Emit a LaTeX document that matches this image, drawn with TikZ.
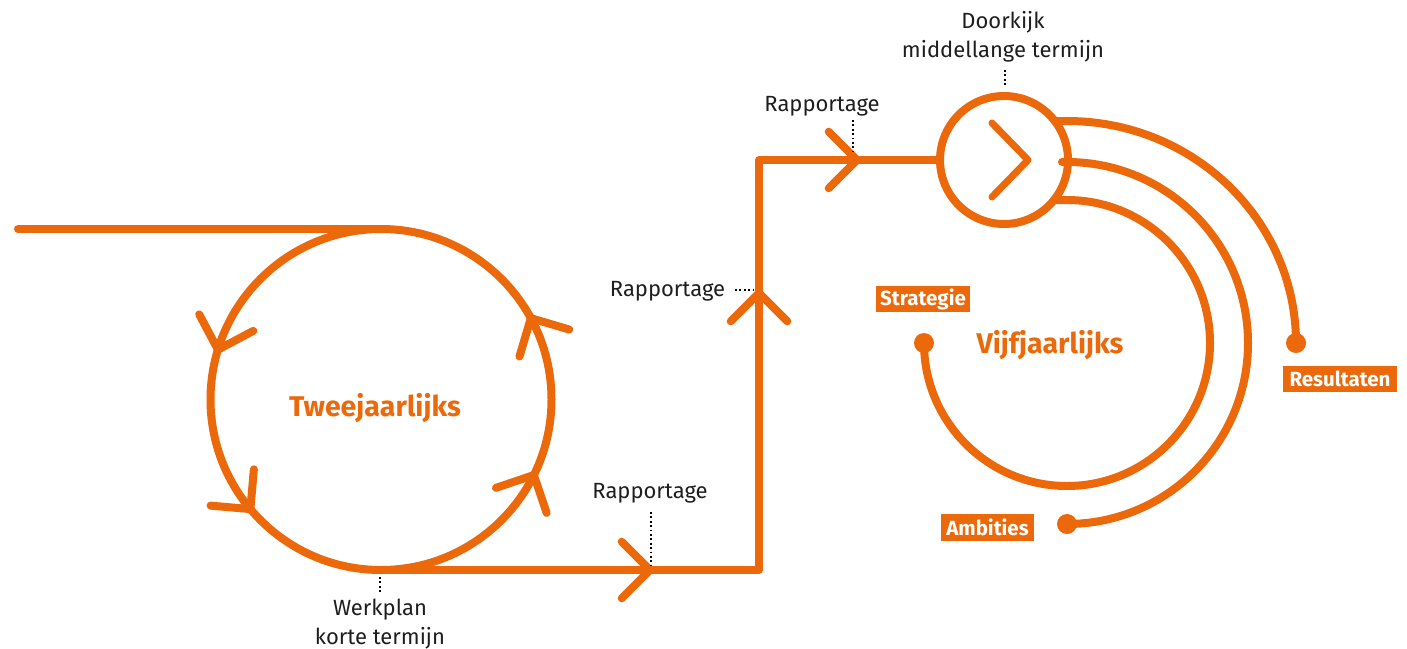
\documentclass[tikz,border=0pt]{standalone}
\usepackage{fontspec}
\setmainfont{Fira Sans}
\usetikzlibrary{calc}
\definecolor{or}{RGB}{235,105,10}
\definecolor{txt}{RGB}{30,30,30}
\begin{document}
\begin{tikzpicture}[x=1pt,y=1pt,
  ln/.style={draw=or, line width=8pt, line cap=round, line join=round},
  dots/.style={draw=black, line width=2pt, dash pattern=on 1.8pt off 2.6pt},
  lbl/.style={font=\fontsize{22}{29}\selectfont, text=txt, inner sep=0pt, align=center, anchor=base},
  big/.style={font=\bfseries\fontsize{28.5}{34}\selectfont, text=or, inner sep=0pt, anchor=base},
  tag/.style={fill=or, text=white, font=\bfseries\fontsize{20.5}{22}\selectfont, inner sep=0pt, minimum height=26pt},
  dotn/.style={circle, fill=or, minimum size=20pt, inner sep=0pt}]
\useasboundingbox (0,0) rectangle (1407,-648);
% left cycle
\coordinate (c1) at (381,-399.5);
\coordinate (start) at (18,-229);
\coordinate (top1) at (381,-229);
\coordinate (bot1) at (381,-570);
\draw[ln] (c1) circle (170.5);
\draw[ln] (start) -- (top1);
\foreach \a in {163,220,-26.3,28.5}{
  \draw[ln] ($(c1)+(\a:170.5)$) ++(\a+225:40) -- ++(\a+45:40) -- ++(\a-45:40);
}
% path to the right
\coordinate (cornerA) at (759,-570);
\coordinate (cornerB) at (759,-160);
\node[circle, draw=or, line width=8pt, minimum size=128pt, inner sep=0pt] (dk) at (1004,-160) {};
\draw[ln] (bot1) -- (cornerA) -- (cornerB) -- (dk.west);
\coordinate (r1) at (650,-570);
\coordinate (r2) at (759,-293);
\coordinate (r3) at (857,-160);
\draw[ln] (r1) ++(135:40) -- ++(-45:40) -- ++(-135:40);
\draw[ln] (r2) ++(-135:40) -- ++(45:40) -- ++(-45:40);
\draw[ln] (r3) ++(135:40) -- ++(-45:40) -- ++(-135:40);
\draw[ln, line width=7pt] ($(dk)+(-12,37)$) -- ($(dk)+(24,0)$) -- ($(dk)+(-12,-37)$);
% arcs
\node[dotn] (dR) at (1296,-343) {};
\node[dotn] (dA) at (1067,-524) {};
\node[dotn] (dS) at (924,-343) {};
\draw[ln] (1055,-121) -- (1067,-121) arc[start angle=90, end angle=0, x radius=229, y radius=222];
\draw[ln] (1062,-162) -- (1067,-162) arc[start angle=90, end angle=-90, radius=181];
\draw[ln] (1055,-200) -- (1067,-200) arc[start angle=90, end angle=-180, radius=143];
% tags
\node[tag, minimum width=94pt] (strat) at (923,-299) {Strategie};
\node[tag, minimum width=114pt] (res) at (1340,-379) {Resultaten};
\node[tag, minimum width=93pt, minimum height=27pt] (amb) at (987.5,-527.5) {Ambities};
% big labels
\node[big] (twee) at (375,-416) {Tweejaarlijks};
\node[big] (vijf) at (1050,-353) {Vijfjaarlijks};
% small labels
\node[lbl] (rap1) at (822,-111) {Rapportage};
\node[lbl] (rap2) at (667.5,-296) {Rapportage};
\node[lbl] (rap3) at (650,-498) {Rapportage};
\node[lbl] (werk) at (380,-644) {Werkplan\\korte termijn};
\node[lbl] (door) at (1003,-57) {Doorkijk\\middellange termijn};
% dotted leaders
\draw[dots] (853,-120) -- (853,-152);
\draw[dots] (735,-290) -- (756,-290);
\draw[dots] (651,-512) -- (651,-565);
\draw[dots] (380,-577) -- (380,-592);
\draw[dots] (1005,-70) -- (1005,-86);
\end{tikzpicture}
\end{document}
